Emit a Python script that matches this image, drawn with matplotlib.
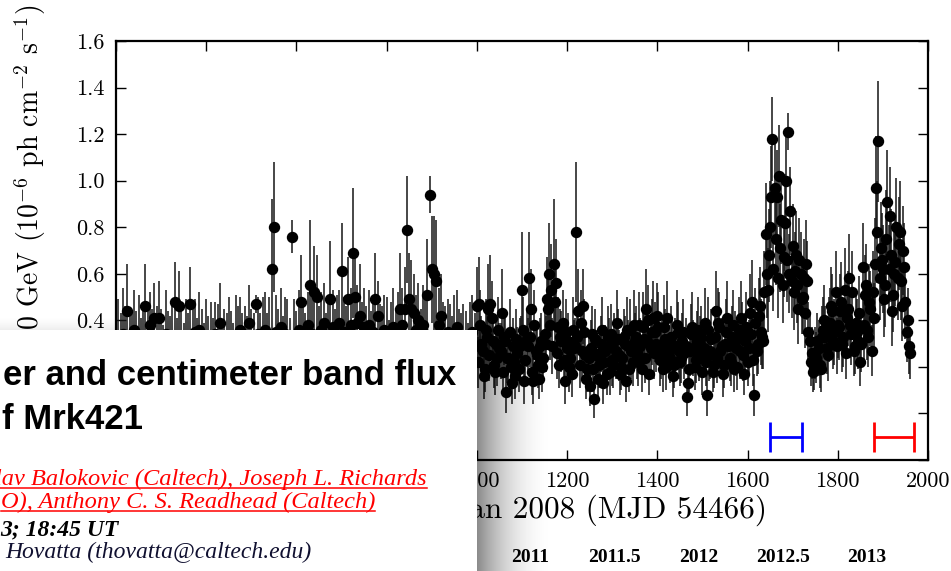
import numpy as np
import matplotlib
matplotlib.use("Agg")
import matplotlib.pyplot as plt
from matplotlib.patches import Rectangle
from matplotlib.lines import Line2D
from matplotlib.ticker import FuncFormatter

plt.rcParams.update({
    "font.family": "serif",
    "font.serif": ["cmr10"],
    "mathtext.fontset": "cm",
    "axes.unicode_minus": False,
    "axes.formatter.use_mathtext": True,
})

# ---- light curve, 5-day bins (days since 1 Jan 2008) ----
days_a = np.arange(205, 1961, 5)
flux_a = [
    0.31, 0.27, 0.34, 0.29, 0.44, 0.30, 0.24, 0.36, 0.28, 0.33,
    0.26, 0.30, 0.46, 0.31, 0.38, 0.28, 0.41, 0.33, 0.41, 0.27,
    0.22, 0.34, 0.29, 0.25, 0.31, 0.48, 0.26, 0.46, 0.30, 0.23,
    0.32, 0.28, 0.47, 0.27, 0.35, 0.24, 0.36, 0.30, 0.21, 0.33,
    0.27, 0.31, 0.25, 0.34, 0.29, 0.39, 0.22, 0.30, 0.26, 0.32,
    0.28, 0.24, 0.33, 0.29, 0.36, 0.27, 0.31, 0.25, 0.39, 0.30,
    0.26, 0.47, 0.34, 0.28, 0.32, 0.36, 0.29, 0.33, 0.62, 0.80,
    0.35, 0.30, 0.37, 0.28, 0.34, 0.31, 0.26, 0.76, 0.33, 0.29,
    0.36, 0.48, 0.32, 0.27, 0.38, 0.55, 0.34, 0.52, 0.50, 0.31,
    0.36, 0.39, 0.28, 0.33, 0.49, 0.37, 0.30, 0.34, 0.39, 0.61,
    0.35, 0.29, 0.49, 0.38, 0.69, 0.50, 0.39, 0.42, 0.33, 0.37,
    0.30, 0.38, 0.27, 0.35, 0.49, 0.42, 0.31, 0.28, 0.36, 0.33,
    0.25, 0.32, 0.37, 0.29, 0.34, 0.45, 0.38, 0.45, 0.79, 0.49,
    0.45, 0.43, 0.36, 0.40, 0.31, 0.38, 0.34, 0.51, 0.94, 0.62,
    0.60, 0.57, 0.38, 0.42, 0.33, 0.29, 0.35, 0.31, 0.27, 0.34,
    0.37, 0.30, 0.26, 0.33, 0.28, 0.24, 0.31, 0.35, 0.29, 0.46,
    0.47, 0.30, 0.16, 0.36, 0.45, 0.47, 0.31, 0.18, 0.24, 0.28,
    0.43, 0.33, 0.09, 0.24, 0.20, 0.29, 0.16, 0.26, 0.29, 0.53,
    0.14, 0.32, 0.58, 0.45, 0.14, 0.27, 0.21, 0.29, 0.20, 0.34,
    0.49, 0.60, 0.53, 0.64, 0.56, 0.37, 0.33, 0.39, 0.14, 0.28,
    0.20, 0.17, 0.28, 0.78, 0.44, 0.39, 0.46, 0.25, 0.19, 0.12,
    0.34, 0.06, 0.25, 0.21, 0.30, 0.13, 0.27, 0.33, 0.18, 0.23,
    0.31, 0.39, 0.25, 0.20, 0.33, 0.14, 0.29, 0.36, 0.22, 0.31,
    0.26, 0.38, 0.19, 0.32, 0.45, 0.40, 0.28, 0.41, 0.35, 0.42,
    0.23, 0.30, 0.37, 0.20, 0.27, 0.33, 0.16, 0.29, 0.35, 0.22,
    0.31, 0.26, 0.07, 0.19, 0.34, 0.28, 0.23, 0.36, 0.30, 0.18,
    0.39, 0.08, 0.25, 0.32, 0.21, 0.44, 0.39, 0.27, 0.17, 0.30,
    0.41, 0.24, 0.33, 0.19, 0.28, 0.36, 0.41, 0.25, 0.31, 0.22,
    0.43, 0.48, 0.08, 0.27, 0.42, 0.35, 0.31, 0.77, 0.53, 0.80,
    1.18, 0.97, 0.93, 1.02, 0.83, 0.67, 1.00, 1.21, 0.87, 0.72,
    0.61, 0.55, 0.66, 0.49, 0.58, 0.64, 0.35, 0.22, 0.18, 0.26,
    0.31, 0.21, 0.33, 0.40, 0.28, 0.36, 0.46, 0.31, 0.52, 0.38,
    0.44, 0.30, 0.53, 0.41, 0.58, 0.34, 0.27, 0.39, 0.31, 0.22,
    0.63, 0.51, 0.36, 0.48, 0.27, 0.41, 0.97, 1.17, 0.71, 0.62,
    0.55, 0.91, 0.85, 0.44, 0.60, 0.80, 0.73, 0.57, 0.70, 0.48,
    0.40, 0.26,
]
err_a = [
    0.18, 0.16, 0.20, 0.17, 0.20, 0.15, 0.19, 0.17, 0.16, 0.18,
    0.15, 0.17, 0.18, 0.16, 0.14, 0.17, 0.15, 0.13, 0.16, 0.18,
    0.16, 0.19, 0.15, 0.17, 0.18, 0.17, 0.15, 0.15, 0.18, 0.16,
    0.17, 0.15, 0.16, 0.18, 0.14, 0.17, 0.16, 0.15, 0.18, 0.16,
    0.15, 0.17, 0.16, 0.14, 0.18, 0.17, 0.16, 0.15, 0.17, 0.18,
    0.16, 0.15, 0.18, 0.17, 0.14, 0.16, 0.15, 0.17, 0.16, 0.15,
    0.17, 0.04, 0.16, 0.15, 0.18, 0.16, 0.14, 0.17, 0.30, 0.28,
    0.16, 0.15, 0.17, 0.14, 0.16, 0.18, 0.15, 0.07, 0.16, 0.15,
    0.17, 0.20, 0.15, 0.16, 0.14, 0.28, 0.17, 0.20, 0.18, 0.15,
    0.16, 0.17, 0.15, 0.18, 0.25, 0.16, 0.15, 0.17, 0.14, 0.21,
    0.15, 0.17, 0.18, 0.16, 0.28, 0.19, 0.16, 0.22, 0.15, 0.17,
    0.16, 0.15, 0.17, 0.14, 0.20, 0.15, 0.16, 0.18, 0.15, 0.17,
    0.15, 0.16, 0.17, 0.15, 0.18, 0.24, 0.16, 0.18, 0.23, 0.20,
    0.21, 0.17, 0.15, 0.16, 0.14, 0.17, 0.16, 0.24, 0.08, 0.23,
    0.25, 0.26, 0.16, 0.18, 0.15, 0.17, 0.14, 0.16, 0.15, 0.17,
    0.16, 0.15, 0.17, 0.14, 0.16, 0.15, 0.17, 0.16, 0.14, 0.17,
    0.20, 0.12, 0.10, 0.13, 0.19, 0.21, 0.11, 0.10, 0.12, 0.11,
    0.19, 0.12, 0.09, 0.11, 0.10, 0.12, 0.10, 0.11, 0.12, 0.25,
    0.10, 0.12, 0.20, 0.17, 0.10, 0.11, 0.10, 0.12, 0.11, 0.13,
    0.18, 0.22, 0.20, 0.28, 0.19, 0.13, 0.12, 0.14, 0.10, 0.12,
    0.11, 0.10, 0.12, 0.30, 0.18, 0.14, 0.16, 0.11, 0.10, 0.09,
    0.12, 0.08, 0.11, 0.10, 0.12, 0.09, 0.11, 0.13, 0.10, 0.11,
    0.12, 0.14, 0.11, 0.10, 0.12, 0.09, 0.11, 0.13, 0.10, 0.12,
    0.11, 0.14, 0.10, 0.12, 0.17, 0.15, 0.11, 0.16, 0.13, 0.14,
    0.11, 0.12, 0.14, 0.10, 0.11, 0.13, 0.09, 0.12, 0.13, 0.10,
    0.12, 0.11, 0.08, 0.10, 0.13, 0.12, 0.10, 0.14, 0.12, 0.10,
    0.15, 0.09, 0.11, 0.13, 0.10, 0.17, 0.15, 0.11, 0.10, 0.12,
    0.16, 0.10, 0.13, 0.10, 0.12, 0.14, 0.16, 0.11, 0.12, 0.10,
    0.17, 0.18, 0.09, 0.11, 0.16, 0.14, 0.12, 0.22, 0.18, 0.20,
    0.18, 0.22, 0.20, 0.22, 0.19, 0.17, 0.20, 0.08, 0.19, 0.18,
    0.17, 0.16, 0.18, 0.15, 0.17, 0.19, 0.13, 0.10, 0.09, 0.11,
    0.12, 0.10, 0.13, 0.15, 0.11, 0.14, 0.17, 0.12, 0.18, 0.14,
    0.16, 0.12, 0.18, 0.15, 0.19, 0.13, 0.11, 0.14, 0.12, 0.10,
    0.19, 0.17, 0.13, 0.16, 0.11, 0.15, 0.22, 0.26, 0.20, 0.19,
    0.18, 0.22, 0.21, 0.15, 0.19, 0.21, 0.20, 0.17, 0.19, 0.16,
    0.14, 0.11,
]

# half-bin shifted points from the denser later coverage
days_b = np.arange(1002.5, 1960, 5)
flux_b = [
    0.22, 0.38, 0.27, 0.19, 0.33, 0.25, 0.41, 0.21, 0.30, 0.36,
    0.27, 0.18, 0.31, 0.24, 0.35, 0.13, 0.22, 0.32, 0.19, 0.30,
    0.36, 0.23, 0.29, 0.33, 0.18, 0.38, 0.25, 0.15, 0.31, 0.24,
    0.30, 0.45, 0.38, 0.29, 0.48, 0.26, 0.21, 0.31, 0.23, 0.35,
    0.31, 0.24, 0.36, 0.29, 0.33, 0.21, 0.27, 0.35, 0.15, 0.24,
    0.28, 0.19, 0.32, 0.15, 0.26, 0.36, 0.22, 0.17, 0.29, 0.34,
    0.21, 0.27, 0.32, 0.17, 0.24, 0.30, 0.36, 0.19, 0.27, 0.38,
    0.33, 0.22, 0.29, 0.37, 0.24, 0.31, 0.17, 0.35, 0.26, 0.30,
    0.37, 0.26, 0.19, 0.32, 0.41, 0.24, 0.29, 0.21, 0.38, 0.27,
    0.24, 0.35, 0.29, 0.13, 0.27, 0.37, 0.20, 0.31, 0.25, 0.33,
    0.28, 0.22, 0.36, 0.27, 0.18, 0.33, 0.24, 0.37, 0.29, 0.21,
    0.35, 0.29, 0.22, 0.38, 0.31, 0.20, 0.27, 0.34, 0.17, 0.37,
    0.28, 0.34, 0.23, 0.39, 0.30, 0.46, 0.33, 0.52, 0.60, 0.68,
    0.93, 0.62, 0.75, 0.58, 0.71, 0.55, 0.82, 0.66, 0.60, 0.57,
    0.52, 0.68, 0.45, 0.60, 0.50, 0.43, 0.57, 0.31, 0.26, 0.20,
    0.24, 0.28, 0.19, 0.36, 0.33, 0.25, 0.39, 0.44, 0.35, 0.29,
    0.37, 0.48, 0.33, 0.26, 0.45, 0.38, 0.52, 0.29, 0.35, 0.43,
    0.30, 0.38, 0.55, 0.33, 0.45, 0.52, 0.64, 0.78, 0.58, 0.66,
    0.49, 0.75, 0.62, 0.68, 0.51, 0.65, 0.58, 0.78, 0.46, 0.63,
    0.35, 0.29,
]
err_b = [
    0.11, 0.15, 0.12, 0.10, 0.13, 0.11, 0.16, 0.10, 0.12, 0.14,
    0.12, 0.10, 0.13, 0.11, 0.14, 0.09, 0.11, 0.13, 0.10, 0.12,
    0.14, 0.11, 0.12, 0.13, 0.10, 0.15, 0.11, 0.09, 0.12, 0.11,
    0.12, 0.17, 0.15, 0.12, 0.18, 0.11, 0.10, 0.13, 0.11, 0.14,
    0.12, 0.11, 0.14, 0.12, 0.13, 0.10, 0.12, 0.14, 0.09, 0.11,
    0.12, 0.10, 0.13, 0.09, 0.11, 0.14, 0.10, 0.09, 0.12, 0.13,
    0.10, 0.12, 0.13, 0.09, 0.11, 0.12, 0.14, 0.10, 0.12, 0.15,
    0.13, 0.10, 0.12, 0.15, 0.11, 0.12, 0.09, 0.14, 0.11, 0.12,
    0.15, 0.11, 0.10, 0.13, 0.16, 0.11, 0.12, 0.10, 0.15, 0.12,
    0.11, 0.14, 0.12, 0.08, 0.11, 0.15, 0.10, 0.13, 0.11, 0.13,
    0.12, 0.10, 0.14, 0.12, 0.09, 0.13, 0.11, 0.15, 0.12, 0.10,
    0.14, 0.12, 0.10, 0.15, 0.13, 0.10, 0.12, 0.14, 0.09, 0.15,
    0.12, 0.14, 0.11, 0.15, 0.13, 0.17, 0.14, 0.18, 0.19, 0.20,
    0.22, 0.18, 0.20, 0.17, 0.19, 0.16, 0.21, 0.18, 0.17, 0.16,
    0.16, 0.19, 0.15, 0.18, 0.16, 0.15, 0.17, 0.12, 0.11, 0.10,
    0.11, 0.12, 0.10, 0.14, 0.13, 0.11, 0.15, 0.16, 0.14, 0.12,
    0.14, 0.17, 0.13, 0.11, 0.16, 0.14, 0.18, 0.12, 0.14, 0.16,
    0.12, 0.15, 0.18, 0.13, 0.16, 0.18, 0.20, 0.22, 0.18, 0.20,
    0.16, 0.21, 0.19, 0.20, 0.16, 0.19, 0.18, 0.22, 0.15, 0.19,
    0.13, 0.12,
]

# observing campaigns marked below the light curve
campaign_start = [1650, 1880]
campaign_end = [1720, 1970]
campaign_color = ["#0000ff", "#ff0000"]
campaign_level = -0.1

# calendar-year labels of the panel underneath
year_ticks = [2011, 2011.5, 2012, 2012.5, 2013]
year_labels = ["2011", "2011.5", "2012", "2012.5", "2013"]

days = np.concatenate([days_a, days_b])
flux = np.concatenate([flux_a, flux_b])
flux_err = np.concatenate([err_a, err_b])
order = np.argsort(days)
days, flux, flux_err = days[order], flux[order], flux_err[order]

W, H = 951, 571
fig = plt.figure(figsize=(W / 100, H / 100), dpi=100)
fig.patch.set_facecolor("white")

ax = fig.add_axes([116 / W, 1 - 460 / H, (928 - 116) / W, (460 - 41) / H])
ax.errorbar(days, flux, yerr=flux_err, fmt="o", color="k", ms=7.2,
            ecolor="#151515", elinewidth=1.1, capsize=0, zorder=3)
for s, e, c in zip(campaign_start, campaign_end, campaign_color):
    ax.errorbar([(s + e) / 2], [campaign_level], xerr=[(e - s) / 2],
                fmt="none", ecolor=c, elinewidth=2, capsize=10.8,
                capthick=2, zorder=4)

ax.set_xlim(200, 2000)
ax.set_ylim(-0.2, 1.6)
ax.set_xticks(np.arange(200, 2001, 200))
ax.set_yticks(np.arange(-0.2, 1.61, 0.2))
# labels lying under the page panel are left blank
ax.xaxis.set_major_formatter(
    FuncFormatter(lambda v, p: f"{v:.0f}" if v >= 999 else ""))
ax.yaxis.set_major_formatter(
    FuncFormatter(lambda v, p: f"{v:.1f}" if v >= 0.39 else ""))
ax.tick_params(direction="in", top=True, right=True, length=7, width=1,
               labelsize=16, pad=8)
for sp in ax.spines.values():
    sp.set_linewidth(1.6)

ax.set_xlabel("Days since 1 Jan 2008 (MJD 54466)", fontsize=22.5)
ax.xaxis.set_label_coords((767 - 116) / 812, (460 - 510) / 419)
ax.xaxis.label.set_va("center")
ax.xaxis.label.set_ha("right")
ax.set_ylabel(r"Flux $0.1-300$ GeV ($10^{-6}$ ph cm$^{-2}$ s$^{-1}$)",
              fontsize=20)
ax.yaxis.set_label_coords((30 - 116) / 812, (460 - 5) / 419)
ax.yaxis.label.set_va("center")
ax.yaxis.label.set_ha("right")

# year axis of the lower panel
yax = fig.add_axes([445.75 / W, 1 - 549 / H, 505.5 / W, 0.02], zorder=5)
yax.set_xlim(2010.5, 2013.5)
yax.set_xticks(year_ticks)
yax.set_xticklabels(year_labels, family="Liberation Serif",
                    fontweight="bold", fontsize=14)
yax.tick_params(length=0, pad=0)
yax.set_yticks([])
for sp in yax.spines.values():
    sp.set_visible(False)
yax.patch.set_alpha(0)

# page panel laid over the lower-left corner
ov = fig.add_axes([0, 0, 1, 1], zorder=10)
ov.set_xlim(0, W)
ov.set_ylim(H, 0)
ov.axis("off")

box_right, box_top = 477, 330
ov.add_patch(Rectangle((0, box_top), box_right, H - box_top,
                       facecolor="white", edgecolor="none", zorder=2))

# soft drop shadow to the right of the panel
nx, ny = 120, 260
tx = np.linspace(0, 1, nx)
ty = np.linspace(320, H, ny)
shade_x = 0.46 * (1 - tx) ** 2.2
shade_y = np.clip((ty - 322) / 16, 0, 1)
alpha = shade_y[:, None] * shade_x[None, :]
rgba = np.zeros((ny, nx, 4))
rgba[..., 3] = alpha
ov.imshow(rgba, extent=(box_right, box_right + 80, H, 320), origin="upper",
          aspect="auto", interpolation="bilinear", zorder=1)

# faint shadow along the panel's top edge
ty2 = np.linspace(0, 1, 30)
rgba2 = np.zeros((30, 2, 4))
rgba2[..., 3] = (0.07 * ty2 ** 1.5)[:, None]
ov.imshow(rgba2, extent=(0, box_right, box_top, 316), origin="upper",
          aspect="auto", interpolation="bilinear", zorder=1)

sans = dict(family="Liberation Sans", weight="bold", fontsize=25,
            color="black", va="baseline", zorder=3)
ov.text(456, 385, "er and centimeter band flux", ha="right", **sans)
ov.text(2, 429, "f Mrk421", ha="left", **sans)

serif_red = dict(family="Liberation Serif", style="italic", fontsize=17.6,
                 color="#ff0000", va="baseline", zorder=3)
t1 = ov.text(427, 485, "lav Balokovic (Caltech), Joseph L. Richards",
             ha="right", **serif_red)
t2 = ov.text(375, 508, "O), Anthony C. S. Readhead (Caltech)",
             ha="right", **serif_red)
ov.text(118, 535, "3; 18:45 UT", ha="right", family="Liberation Serif",
        style="italic", weight="bold", fontsize=17, color="black",
        va="baseline", zorder=3)
ov.text(5, 558, "Hovatta (thovatta@caltech.edu)", ha="left",
        family="Liberation Serif", style="italic", fontsize=17,
        color="#101030", va="baseline", zorder=3)

# underline the linked author names
fig.canvas.draw()
renderer = fig.canvas.get_renderer()
inv = ov.transData.inverted()
for t, base in ((t1, 485), (t2, 508)):
    bb = t.get_window_extent(renderer)
    (x0, _), (x1, _) = inv.transform([[bb.x0, bb.y0], [bb.x1, bb.y1]])
    ov.add_line(Line2D([min(x0, x1), max(x0, x1)], [base + 3, base + 3],
                       color="#ff0000", lw=1.1, zorder=3))

fig.savefig("out.png", dpi=100)
